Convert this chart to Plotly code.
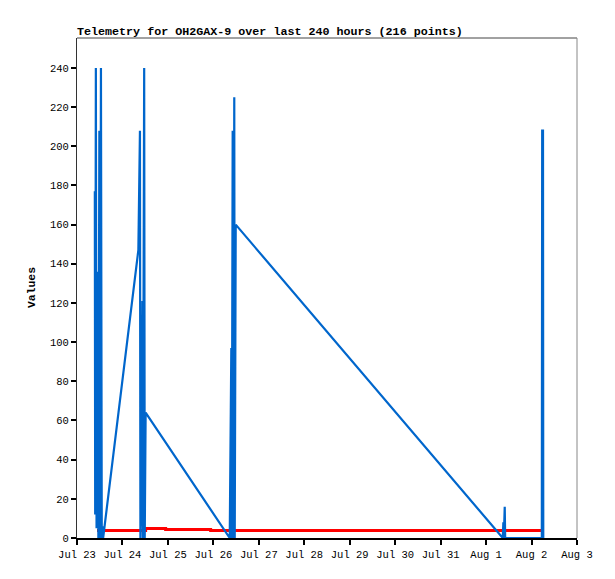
import pandas as pd
import plotly.graph_objects as go

# Blue series: days after Jul 23 00:00, and values
blue_days = [0.392, 0.400, 0.415, 0.430, 0.455, 0.470, 0.492, 0.505, 0.527, 0.545,
             0.560, 0.575, 1.350, 1.385, 1.395, 1.420, 1.440, 1.450, 1.478, 1.490,
             1.510, 3.360, 3.395, 3.405, 3.425, 3.440, 3.460, 3.470, 3.492, 9.367,
             9.380, 9.390, 9.410, 9.420, 10.226, 10.234, 10.252, 10.258]
blue_vals = [177, 12, 240, 5, 136, 0, 208, 0, 240, 0,
             6, 0, 147, 208, 0, 29, 121, 0, 240, 0,
             64, 0, 97, 0, 208, 0, 225, 0, 160, 0,
             8, 0, 16, 0, 0, 208, 208, 0]

# Red series (step)
red_days = [0.44, 1.51, 1.95, 2.94, 10.24]
red_vals = [3.8, 4.8, 4.3, 3.8, 3.8]

base = pd.Timestamp("2023-07-23")
bx = [base + pd.Timedelta(days=d) for d in blue_days]
rx = [base + pd.Timedelta(days=d) for d in red_days]

FONT = "Liberation Mono"

fig = go.Figure()
fig.add_trace(go.Scatter(x=rx, y=red_vals, mode="lines", line=dict(color="#ff0000", width=3, shape="hv"),
                         showlegend=False))
fig.add_trace(go.Scatter(x=bx, y=blue_vals, mode="lines", line=dict(color="#0066cc", width=2.2),
                         showlegend=False))

fig.update_layout(
    width=615, height=579, autosize=False,
    margin=dict(l=69, r=46, t=30, b=49),
    paper_bgcolor="white", plot_bgcolor="white",
    font=dict(family=FONT, size=10, color="black"),
    title=dict(text="<b>Telemetry for OH2GAX-9 over last 240 hours (216 points)</b>",
               x=69/615, xanchor="left", xref="container",
               y=1-23/579, yanchor="middle", yref="container",
               font=dict(family=FONT, size=11.7, color="black")),
    xaxis=dict(range=[base, base + pd.Timedelta(days=11)], type="date",
               tickformat="%b %-d", dtick=86400000, tick0=base,
               showgrid=False, zeroline=False, showline=True, linecolor="black", linewidth=2,
               ticks="outside", ticklen=5, tickwidth=2, tickcolor="black",
               tickfont=dict(family=FONT, size=10.5)),
    yaxis=dict(range=[0, 255.3], tick0=0, dtick=20,
               showgrid=False, zeroline=False, showline=True, linecolor="#333333", linewidth=1,
               ticks="outside", ticklen=5, tickwidth=2, tickcolor="black",
               tickfont=dict(family=FONT, size=10.5)),
    shapes=[
        dict(type="line", xref="paper", yref="paper", x0=0, x1=1, y0=1, y1=1,
             line=dict(color="#444444", width=1)),
        dict(type="line", xref="paper", yref="paper", x0=1, x1=1, y0=0, y1=1,
             line=dict(color="#888888", width=1)),
    ],
    annotations=[
        dict(text="<b>Values</b>", xref="paper", yref="paper", x=(32-77)/500, y=0.5,
             textangle=-90, showarrow=False, xanchor="center", yanchor="middle",
             font=dict(family=FONT, size=11.4, color="black")),
    ],
)

fig.write_html("out.html")
